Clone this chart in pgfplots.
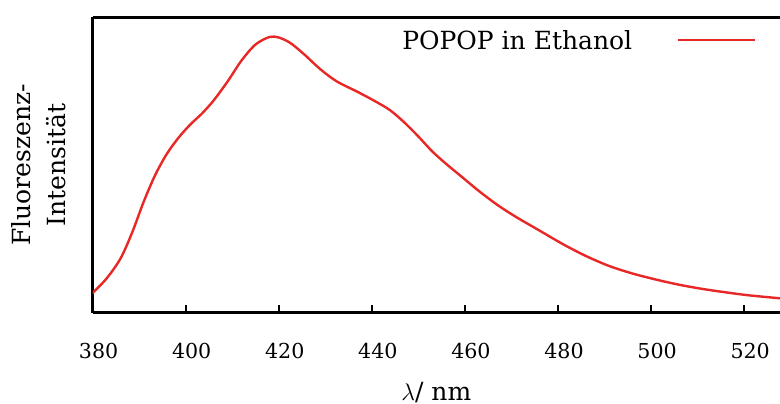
\documentclass[border=0pt]{standalone}
\usepackage{fontspec}
\setmainfont{DejaVu Serif}
\usepackage{pgfplots}
\pgfplotsset{compat=1.18}
\definecolor{curvered}{RGB}{232,40,38}
\pgfplotstableread{
x y
380.0 19.5
383.0 34.0
386.0 54.0
388.5 80.0
391.0 111.0
393.5 138.0
396.0 159.0
398.5 175.0
401.0 188.0
403.5 199.0
406.0 212.0
409.0 231.0
412.0 252.0
415.0 268.0
418.0 275.5
420.0 275.0
422.5 269.5
425.5 258.0
429.0 243.0
432.5 231.0
437.0 220.5
441.0 210.5
444.0 202.0
447.0 190.0
450.0 176.0
453.0 161.0
456.0 148.5
459.5 135.0
463.0 121.5
467.0 107.5
471.0 95.5
476.0 82.0
481.0 68.5
486.0 56.5
491.0 46.5
496.0 39.0
501.0 33.0
506.0 27.8
511.0 23.6
516.0 20.2
521.0 17.2
527.7 14.2
}\spectrum
\begin{document}
\begin{tikzpicture}
\begin{axis}[
  at={(0,0)}, anchor=south west,
  scale only axis, width=343.7pt, height=147.6pt,
  xmin=380, xmax=527.7, ymin=0, ymax=295.2,
  axis x line=box, axis y line=left,
  axis line style={-, line width=1.6pt, black},
  xtick={380,400,...,520}, ytick=\empty,
  xtick pos=bottom, tick align=inside,
  major tick length=4pt,
  every tick/.style={black, line width=1pt},
  /pgf/number format/assume math mode=true,
  xticklabel style={font=\fontsize{10.3}{12}\selectfont, yshift=-11.8pt, xshift=3pt},
  xlabel={$\lambda$/ nm},
  xlabel style={at={(axis description cs:0.5,0)}, anchor=base, yshift=-43.75pt, font=\fontsize{12.5}{15}\selectfont},
  ylabel={Fluoreszenz-\\Intensität},
  ylabel style={at={(axis description cs:-0.0786,0.5)}, anchor=center, align=center, font=\fontsize{12.5}{17.5}\selectfont},
  legend style={draw=none, fill=none, at={(axis description cs:1,1)}, anchor=north east, xshift=-11.5pt, yshift=-6.5pt, font=\fontsize{12.5}{15}\selectfont, inner sep=0pt, nodes={inner sep=0pt}},
  legend plot pos=right,
  legend image code/.code={\path (0pt,0pt); \draw[#1] (22.5pt,0.8pt) -- (61pt,0.8pt);},
]
\addplot[curvered, line width=1.2pt, smooth] table[x=x,y=y] {\spectrum};
\addlegendentry{POPOP in Ethanol}
\end{axis}
\pgfresetboundingbox
\path (-46.3pt,-45.25pt) rectangle (343.7pt,156.25pt);
\end{tikzpicture}
\end{document}
